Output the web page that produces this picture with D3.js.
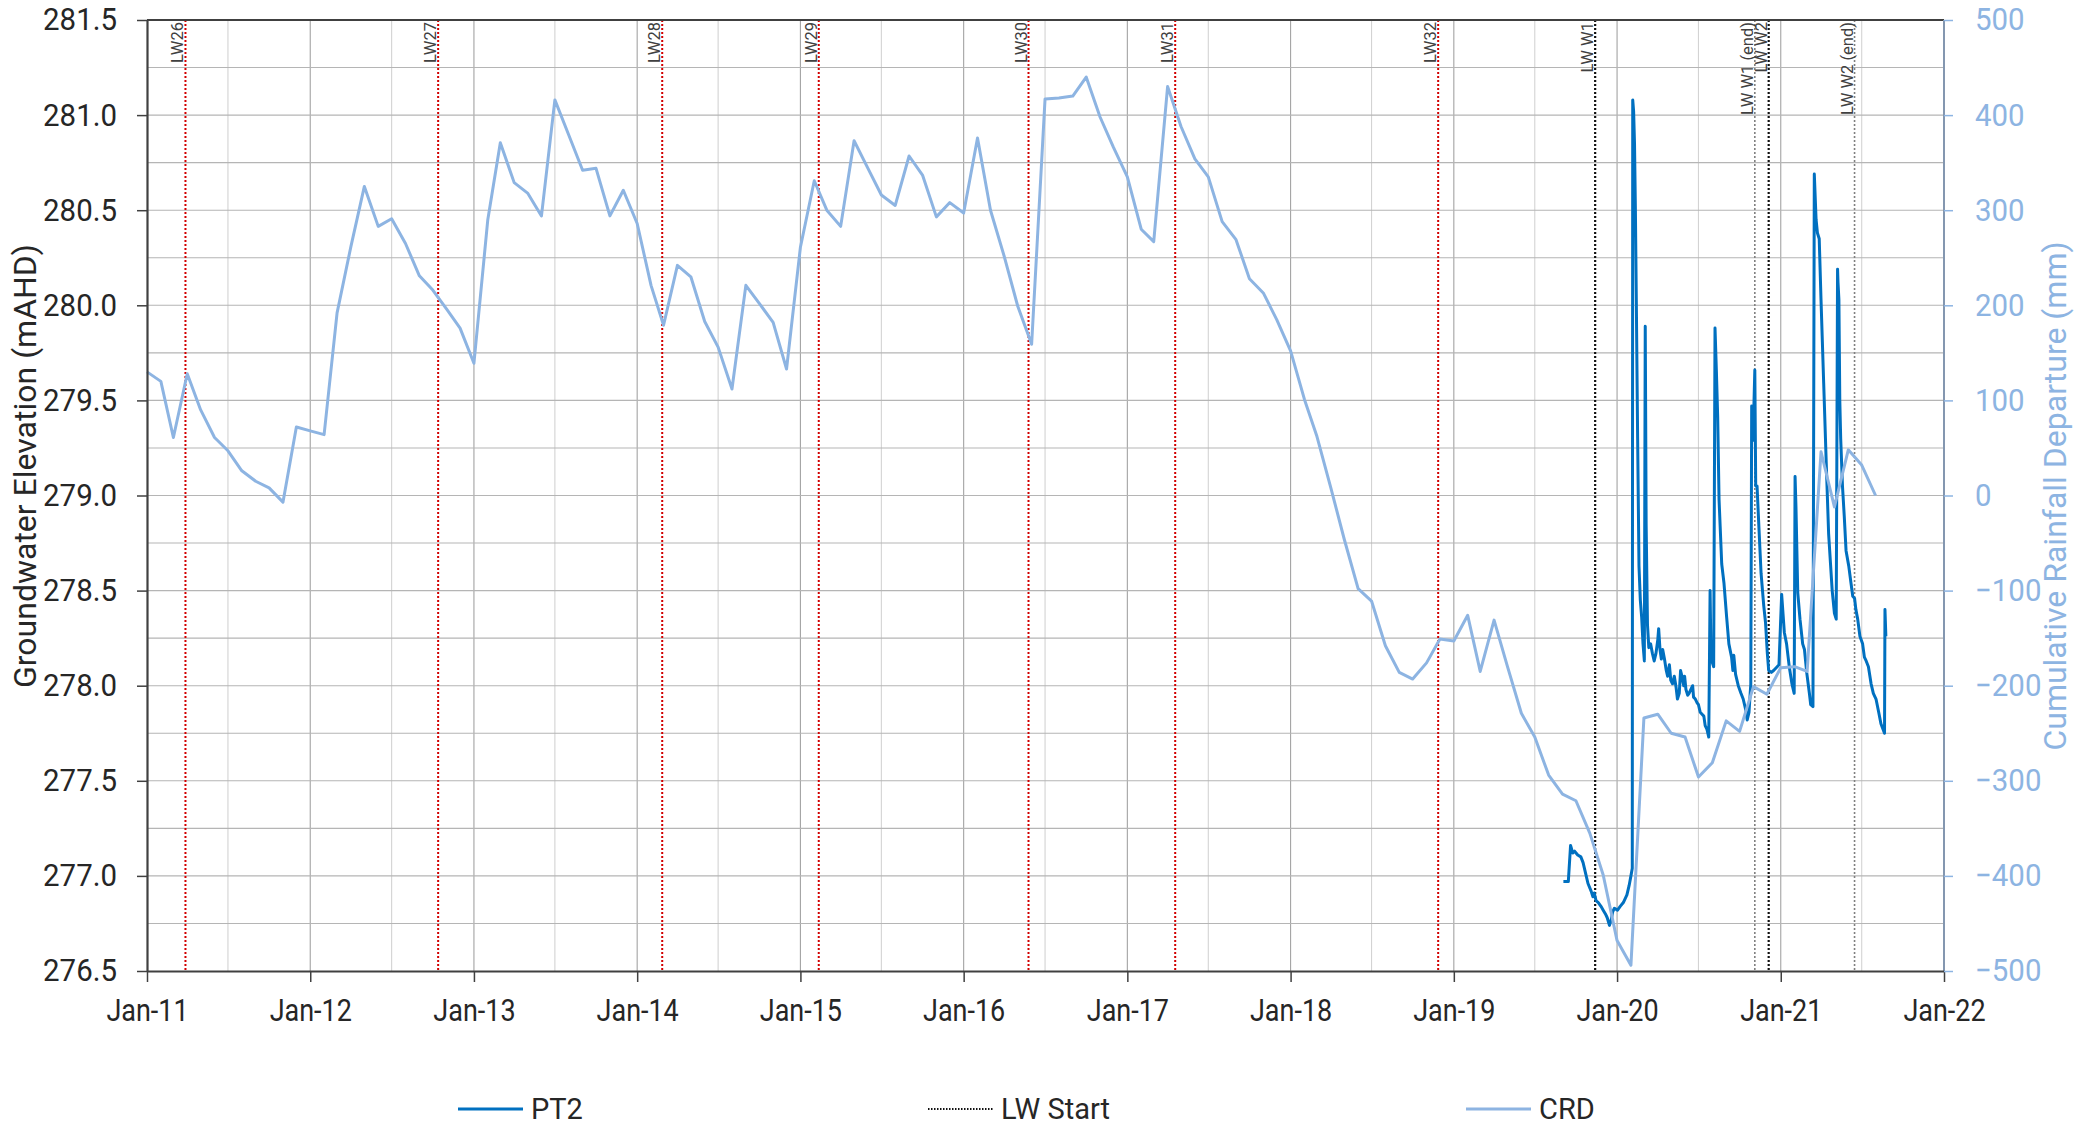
<!DOCTYPE html>
<html>
<head>
<meta charset="utf-8">
<script src="https://cdn.jsdelivr.net/npm/d3@7"></script>
<style>
  html, body { margin: 0; padding: 0; background: #fff; }
  svg { display: block; font-family: Roboto, "Liberation Sans", "DejaVu Sans", sans-serif; }
</style>
</head>
<body>
<svg id="chart" width="2095" height="1125"></svg>
<script>
// Cumulative rainfall departure (mm), one value per month starting Jan 2011
const crdStart = "2011-01-01";
const crdValues = [
  130, 120, 61, 128, 90, 61, 47, 26, 15, 8, -7, 72,
  68, 64, 192, 262, 325, 283, 291, 265, 231, 216, 196, 176,
  139, 290, 371, 329, 318, 294, 416, 379, 342, 344, 294, 321,
  286, 221, 179, 242, 230, 183, 156, 112, 221, 202, 182, 133,
  261, 331, 300, 283, 373, 344, 316, 305, 357, 337, 293, 308,
  297, 376, 300, 251, 199, 159, 417, 418, 420, 440, 398, 366,
  335, 280, 267, 430, 388, 354, 335, 288, 269, 228, 213, 185,
  152, 101, 62, 8, -46, -98, -111, -158, -186, -193, -176, -151,
  -153, -126, -185, -131, -180, -229, -254, -294, -314, -321, -355, -399,
  -468, -494, -234, -230, -250, -254, -296, -281, -237, -248, -201, -209,
  -181, -180, -185, 46, -12, 48, 32, 0
];

// PT2 piezometer groundwater elevation (mAHD)
const pt2Dates = [
  "2019-09-03","2019-09-14","2019-09-19","2019-09-24","2019-09-28","2019-10-05","2019-10-12","2019-10-17",
  "2019-10-22","2019-10-28","2019-11-04","2019-11-08","2019-11-11","2019-11-15","2019-11-20","2019-11-26",
  "2019-12-01","2019-12-06","2019-12-10","2019-12-15","2019-12-19","2019-12-22","2019-12-26","2020-01-02",
  "2020-01-08","2020-01-15","2020-01-23","2020-01-28","2020-02-01","2020-02-04","2020-02-05","2020-02-07",
  "2020-02-09","2020-02-11","2020-02-13","2020-02-16","2020-02-19","2020-02-22","2020-02-25","2020-02-28",
  "2020-03-02","2020-03-04","2020-03-05","2020-03-06","2020-03-09","2020-03-12","2020-03-16","2020-03-20",
  "2020-03-24","2020-03-28","2020-04-01","2020-04-03","2020-04-06","2020-04-09","2020-04-12","2020-04-16",
  "2020-04-20","2020-04-23","2020-04-27","2020-04-30","2020-05-04","2020-05-08","2020-05-12","2020-05-15",
  "2020-05-19","2020-05-22","2020-05-25","2020-05-29","2020-05-31","2020-06-03","2020-06-07","2020-06-10",
  "2020-06-14","2020-06-18","2020-06-20","2020-06-24","2020-06-28","2020-07-01","2020-07-05","2020-07-09",
  "2020-07-13","2020-07-16","2020-07-20","2020-07-24","2020-07-27","2020-07-29","2020-07-31","2020-08-04",
  "2020-08-07","2020-08-10","2020-08-13","2020-08-16","2020-08-22","2020-08-27","2020-09-02","2020-09-07",
  "2020-09-13","2020-09-16","2020-09-18","2020-09-22","2020-09-28","2020-10-04","2020-10-09","2020-10-15",
  "2020-10-18","2020-10-22","2020-10-26","2020-10-28","2020-10-31","2020-11-04","2020-11-06","2020-11-09",
  "2020-11-13","2020-11-18","2020-11-24","2020-11-28","2020-12-02","2020-12-05","2020-12-11","2020-12-16",
  "2020-12-24","2020-12-28","2021-01-03","2021-01-09","2021-01-14","2021-01-20","2021-01-26","2021-01-31",
  "2021-02-02","2021-02-04","2021-02-08","2021-02-13","2021-02-19","2021-02-23","2021-02-28","2021-03-06",
  "2021-03-09","2021-03-14","2021-03-17","2021-03-21","2021-03-24","2021-03-28","2021-04-01","2021-04-07",
  "2021-04-13","2021-04-18","2021-04-26","2021-05-01","2021-05-05","2021-05-08","2021-05-09","2021-05-11",
  "2021-05-13","2021-05-15","2021-05-19","2021-05-23","2021-05-27","2021-06-02","2021-06-07","2021-06-11",
  "2021-06-15","2021-06-18","2021-06-22","2021-06-27","2021-07-03","2021-07-07","2021-07-11","2021-07-16",
  "2021-07-22","2021-07-27","2021-08-02","2021-08-08","2021-08-13","2021-08-21","2021-08-22","2021-08-24"
];
const pt2Levels = [
  276.97, 276.97, 277.16, 277.12, 277.13, 277.11, 277.10, 277.07,
  277.02, 276.96, 276.92, 276.89, 276.91, 276.87, 276.86, 276.84,
  276.82, 276.80, 276.78, 276.74, 276.77, 276.81, 276.83, 276.82,
  276.84, 276.86, 276.90, 276.95, 277.00, 277.04, 281.08, 281.02,
  280.85, 280.50, 280.03, 279.30, 278.63, 278.45, 278.36, 278.22,
  278.13, 279.89, 279.40, 278.85, 278.32, 278.20, 278.22, 278.17,
  278.13, 278.17, 278.24, 278.30, 278.19, 278.14, 278.19, 278.14,
  278.08, 278.05, 278.11, 278.03, 278.01, 278.05, 277.99, 277.93,
  277.96, 278.08, 278.05, 278.00, 278.05, 277.98, 277.95, 277.96,
  277.98, 278.00, 277.94, 277.93, 277.91, 277.90, 277.86, 277.85,
  277.84, 277.79, 277.77, 277.73, 278.50, 278.15, 278.13, 278.10,
  279.88, 279.66, 279.41, 278.98, 278.64, 278.54, 278.36, 278.22,
  278.15, 278.08, 278.16, 278.06, 278.00, 277.96, 277.93, 277.87,
  277.82, 277.86, 278.01, 279.47, 279.29, 279.66, 279.05, 279.05,
  278.84, 278.59, 278.42, 278.33, 278.17, 278.08, 278.07, 278.08,
  278.10, 278.11, 278.48, 278.28, 278.22, 278.10, 278.01, 277.96,
  279.10, 278.94, 278.49, 278.35, 278.22, 278.19, 278.07, 277.96,
  277.90, 277.89, 280.69, 280.45, 280.38, 280.35, 280.03, 279.59,
  279.15, 278.80, 278.50, 278.38, 278.35, 280.19, 280.12, 280.03,
  279.50, 279.30, 279.05, 278.89, 278.71, 278.63, 278.54, 278.47,
  278.46, 278.40, 278.35, 278.26, 278.22, 278.15, 278.13, 278.10,
  278.01, 277.96, 277.93, 277.86, 277.80, 277.75, 278.40, 278.26
];

// Longwall start / end dates
const lwNames = ["LW26", "LW27", "LW28", "LW29", "LW30", "LW31", "LW32",
                 "LW W1", "LW W1 (end)", "LW W2", "LW W2 (end)"];
const lwDates = ["2011-03-28", "2012-10-13", "2014-02-26", "2015-02-11", "2016-05-25", "2017-04-18",
                 "2018-11-27", "2019-11-13", "2020-11-04", "2020-12-05", "2021-06-15"];
const lwKinds = ["earlier", "earlier", "earlier", "earlier", "earlier", "earlier", "earlier",
                 "start", "end", "start", "end"];

// Axis ticks
const leftTicks = [276.5, 277.0, 277.5, 278.0, 278.5, 279.0, 279.5, 280.0, 280.5, 281.0, 281.5];
const rightTicks = [-500, -400, -300, -200, -100, 0, 100, 200, 300, 400, 500];
const yearTickDates = ["2011-01-01", "2012-01-01", "2013-01-01", "2014-01-01", "2015-01-01", "2016-01-01",
                       "2017-01-01", "2018-01-01", "2019-01-01", "2020-01-01", "2021-01-01", "2022-01-01"];

const legendItems = ["PT2", "LW Start", "CRD"];

// ---------------------------------------------------------------
const parse = d3.timeParse("%Y-%m-%d");
const plot = { left: 147, right: 1944, top: 20, bottom: 971 };

const COL_PT2 = "#0070c0";
const COL_CRD = "#8db4e2";
const COL_AXIS = "#404040";
const COL_TEXT = "#262626";

const x = d3.scaleTime()
  .domain([parse("2011-01-01"), parse("2022-01-01")])
  .range([plot.left, plot.right]);
const yL = d3.scaleLinear().domain([276.5, 281.5]).range([plot.bottom, plot.top]);
const yR = d3.scaleLinear().domain([-500, 500]).range([plot.bottom, plot.top]);

const svg = d3.select("#chart");

// gridlines: half-yearly verticals (January lines darker), quarter-metre horizontals
const grid = svg.append("g").attr("fill", "none").attr("stroke-width", 1.1);
const vGrid = d3.timeMonth.every(6).range(parse("2011-07-01"), parse("2022-01-01"));
grid.selectAll("line.v").data(vGrid).join("line")
  .attr("x1", d => x(d)).attr("x2", d => x(d))
  .attr("y1", plot.top).attr("y2", plot.bottom)
  .attr("stroke", d => d.getMonth() === 0 ? "#a3a3a3" : "#d3d3d3");
const hGrid = d3.range(1, 20).map(i => 276.5 + i * 0.25);
grid.selectAll("line.h").data(hGrid).join("line")
  .attr("x1", plot.left).attr("x2", plot.right)
  .attr("y1", d => yL(d)).attr("y2", d => yL(d))
  .attr("stroke", "#b5b5b5");

// longwall marker lines
const lwData = lwNames.map((n, i) => ({ name: n, date: parse(lwDates[i]), kind: lwKinds[i] }));
const lwStroke = { earlier: "#d20000", start: "#111111", end: "#808080" };
const lwWidth = { earlier: 2, start: 2.2, end: 1.6 };
svg.append("g").selectAll("line").data(lwData).join("line")
  .attr("x1", d => x(d.date)).attr("x2", d => x(d.date))
  .attr("y1", plot.top).attr("y2", plot.bottom)
  .attr("stroke", d => lwStroke[d.kind])
  .attr("stroke-width", d => lwWidth[d.kind])
  .attr("stroke-dasharray", "2,2");

svg.append("g").selectAll("text").data(lwData).join("text")
  .attr("transform", d => `translate(${x(d.date) - 2},${plot.top + 2}) rotate(-90)`)
  .attr("text-anchor", "end")
  .attr("font-size", 16.5)
  .attr("fill", COL_AXIS)
  .text(d => d.name);

// CRD series (secondary axis)
const crd = crdValues.map((v, i) => ({ date: d3.timeMonth.offset(parse(crdStart), i), value: v }));
// PT2 series (primary axis)
const pt2 = pt2Dates.map((d, i) => ({ date: parse(d), value: pt2Levels[i] }));

svg.append("path").datum(pt2)
  .attr("fill", "none").attr("stroke", COL_PT2).attr("stroke-width", 3)
  .attr("stroke-linejoin", "round")
  .attr("d", d3.line().x(d => x(d.date)).y(d => yL(d.value)));

svg.append("path").datum(crd)
  .attr("fill", "none").attr("stroke", COL_CRD).attr("stroke-width", 3)
  .attr("stroke-linejoin", "round")
  .attr("d", d3.line().x(d => x(d.date)).y(d => yR(d.value)));

// plot frame
const frame = svg.append("g").attr("stroke-width", 2);
frame.append("line").attr("x1", plot.left).attr("x2", plot.right).attr("y1", plot.top).attr("y2", plot.top).attr("stroke", COL_AXIS);
frame.append("line").attr("x1", plot.right).attr("x2", plot.right).attr("y1", plot.top).attr("y2", plot.bottom).attr("stroke", "#8497b0");

// axes
const fontTick = 31;
const xAxis = svg.append("g").attr("transform", `translate(0,${plot.bottom})`)
  .call(d3.axisBottom(x).tickValues(yearTickDates.map(parse)).tickFormat(d3.timeFormat("%b-%y"))
    .tickSize(11).tickPadding(17).tickSizeOuter(0));
xAxis.select(".domain").attr("stroke", COL_AXIS).attr("stroke-width", 2.2);
xAxis.selectAll(".tick line").attr("stroke", COL_AXIS).attr("stroke-width", 1.5);
xAxis.selectAll(".tick text").attr("font-size", fontTick).attr("fill", COL_TEXT)
  .attr("font-family", "Roboto, sans-serif")
  .attr("transform", "scale(0.87,1)");

const sY = 0.95;
const yAxisL = svg.append("g").attr("transform", `translate(${plot.left},0)`)
  .call(d3.axisLeft(yL).tickValues(leftTicks).tickFormat(d3.format(".1f")).tickSize(10).tickSizeOuter(0));
yAxisL.select(".domain").attr("stroke", COL_AXIS).attr("stroke-width", 2.2);
yAxisL.selectAll(".tick line").attr("stroke", COL_AXIS).attr("stroke-width", 1.5);
yAxisL.selectAll(".tick text").attr("font-size", fontTick).attr("fill", COL_TEXT)
  .attr("font-family", "Roboto, sans-serif")
  .attr("x", -30 / sY).attr("transform", `scale(${sY},1)`);

const yAxisR = svg.append("g").attr("transform", `translate(${plot.right},0)`)
  .call(d3.axisRight(yR).tickValues(rightTicks).tickSize(9).tickSizeOuter(0));
yAxisR.select(".domain").remove();
yAxisR.selectAll(".tick line").attr("stroke", COL_CRD).attr("stroke-width", 1.5);
yAxisR.selectAll(".tick text").attr("font-size", fontTick).attr("fill", COL_CRD)
  .attr("font-family", "Roboto, sans-serif")
  .attr("x", 31 / sY).attr("transform", `scale(${sY},1)`);

// axis titles
svg.append("text")
  .attr("transform", `translate(25,466) rotate(-90)`)
  .attr("text-anchor", "middle").attr("dy", "0.35em")
  .attr("font-size", 32).attr("fill", COL_TEXT)
  .text("Groundwater Elevation (mAHD)");
svg.append("text")
  .attr("transform", `translate(2055,496) rotate(-90)`)
  .attr("text-anchor", "middle").attr("dy", "0.35em")
  .attr("font-size", 32).attr("fill", COL_CRD)
  .text("Cumulative Rainfall Departure (mm)");

// legend
const legendX = [458, 928, 1466];
const legendY = 1109;
const legend = svg.append("g");
legendItems.forEach((name, i) => {
  const g = legend.append("g").attr("transform", `translate(${legendX[i]},${legendY})`);
  const ln = g.append("line").attr("x1", 0).attr("x2", 65).attr("y1", 0).attr("y2", 0);
  if (name === "PT2") ln.attr("stroke", COL_PT2).attr("stroke-width", 3);
  else if (name === "CRD") ln.attr("stroke", COL_CRD).attr("stroke-width", 3);
  else ln.attr("stroke", "#111").attr("stroke-width", 2).attr("stroke-dasharray", "1.5,1.5");
  g.append("text").attr("x", 73).attr("dy", "0.35em")
    .attr("font-size", 29).attr("fill", COL_TEXT)
    .text(name);
});
</script>
</body>
</html>
